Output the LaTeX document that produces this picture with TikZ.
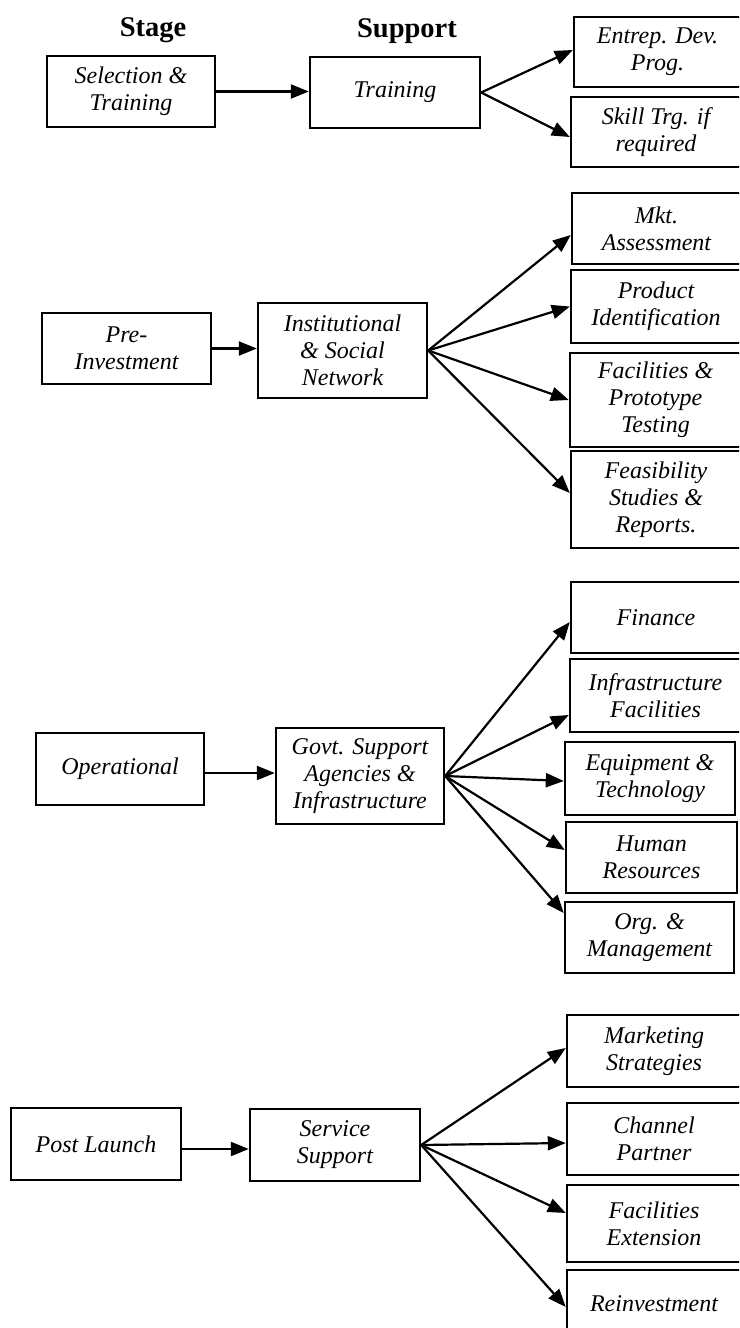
\documentclass[tikz,border=0pt]{standalone}
\usepackage{fontspec}
\setmainfont{Liberation Serif}
\usetikzlibrary{arrows.meta,calc}
\tikzset{
  box/.style={draw, line width=2.4pt, align=center, inner sep=0pt,
    font=\fontsize{24}{27}\selectfont\itshape},
  arr/.style={line width=2.2pt, -{Triangle[length=18pt,width=14pt]}},
  hdr/.style={font=\fontsize{28.5}{32}\selectfont\bfseries, anchor=base}
}
\newcommand\bx[6]{\node[box, minimum width={(#4-#2)*1pt}, minimum height={(#5-#3)*1pt}] (#1) at ({(#2+#4)/2},{(#3+#5)/2}) {#6};}
\begin{document}
\begin{tikzpicture}[x=1pt,y=-1pt]
\clip (0,0) rectangle (739,1328);
\fill[white] (0,0) rectangle (739,1328);
% headers
\node[hdr] (hstage) at (153,36) {Stage};
\node[hdr] (hsupport) at (407,37) {Support};
% row 1
\bx{sel}{47}{56}{215}{127}{Selection \&\\Training}
\bx{tr}{310}{57}{480}{128}{Training}
\bx{ent}{574}{17}{741}{87}{Entrep. Dev.\\Prog.}
\bx{skl}{571}{97}{741}{167}{Skill Trg. if\\required}
% row 2
\bx{pre}{42}{313}{211}{384}{Pre-\\Investment}
\bx{inst}{258}{303}{427}{398}{Institutional\\\& Social\\Network}
\bx{mkt}{572}{193}{741}{264}{Mkt.\\Assessment}
\bx{prd}{571}{270}{741}{343}{Product\\Identification}
\bx{fac}{570}{353}{741}{447}{Facilities \&\\Prototype\\Testing}
\bx{fea}{571}{451}{741}{548}{Feasibility\\Studies \&\\Reports.}
% row 3
\bx{op}{36}{733}{204}{805}{Operational}
\bx{gov}{276}{728}{444}{824}{Govt. Support\\Agencies \&\\Infrastructure}
\bx{fin}{571}{582}{741}{653}{Finance}
\bx{inf}{570}{659}{741}{732}{Infrastructure\\Facilities}
\bx{eq}{565}{742}{735}{815}{Equipment \&\\Technology}
\bx{hr}{566}{822}{737}{893}{Human\\Resources}
\bx{org}{565}{902}{734}{973}{Org. \&\\Management}
% row 4
\bx{post}{11}{1108}{181}{1180}{Post Launch}
\bx{ser}{250}{1109}{420}{1181}{Service\\Support}
\bx{mks}{567}{1015}{741}{1087}{Marketing\\Strategies}
\bx{ch}{567}{1103}{741}{1175}{Channel\\Partner}
\bx{fx}{567}{1185}{741}{1262}{Facilities\\Extension}
\bx{re}{567}{1270}{741}{1338}{Reinvestment}
% arrows row 1
\draw[arr] (sel.east) -- (sel.east -| tr.west);
\draw[arr] (tr.east) -- ([yshift=2pt]ent.west);
\draw[arr] (tr.east) -- ([yshift=-5pt]skl.west);
% row 2
\draw[arr] (pre.east) -- (pre.east -| inst.west);
\draw[arr] (inst.east) -- ([yshift=-6.5pt]mkt.west);
\draw[arr] (inst.east) -- (prd.west);
\draw[arr] (inst.east) -- (fac.west);
\draw[arr] (inst.east) -- ([yshift=6.5pt]fea.west);
% row 3
\draw[arr] ([yshift=-4pt]op.east) -- ([yshift=-4pt]op.east -| gov.west);
\draw[arr] (gov.east) -- ([yshift=-4.5pt]fin.west);
\draw[arr] (gov.east) -- ([yshift=-19.5pt]inf.west);
\draw[arr] (gov.east) -- ([yshift=-2.5pt]eq.west);
\draw[arr] (gov.east) -- ([yshift=7.5pt]hr.west);
\draw[arr] (gov.east) -- ([yshift=24.5pt]org.west);
% row 4
\draw[arr] ([yshift=-5pt]post.east) -- ([yshift=-5pt]post.east -| ser.west);
\draw[arr] (ser.east) -- ([yshift=3pt]mks.west);
\draw[arr] (ser.east) -- ([yshift=-4pt]ch.west);
\draw[arr] (ser.east) -- ([yshift=10.5pt]fx.west);
\draw[arr] (ser.east) -- ([yshift=-3pt]re.west);
\end{tikzpicture}
\end{document}
